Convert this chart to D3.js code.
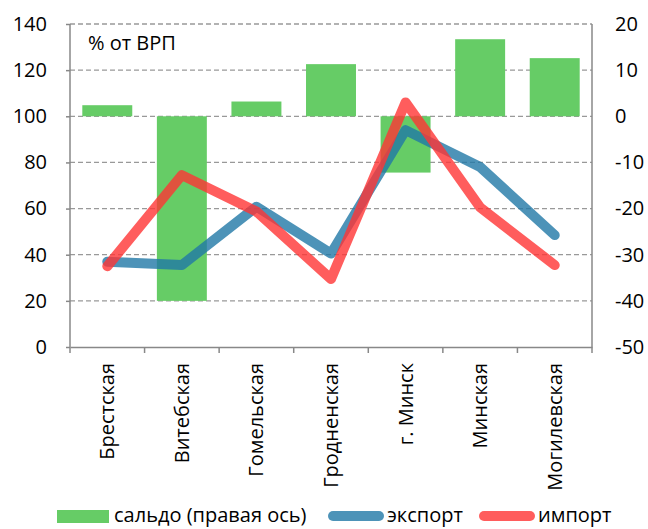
<!DOCTYPE html>
<html>
<head>
<meta charset="utf-8">
<script src="https://cdn.jsdelivr.net/npm/d3@7"></script>
<style>
  body { margin: 0; background: #fff; }
  text { font-family: "Open Sans", sans-serif; fill: #000; }
</style>
</head>
<body>
<div id="chart"></div>
<script>

var regions = ['Брестская', 'Витебская', 'Гомельская', 'Гродненская', 'г. Минск', 'Минская', 'Могилевская'];
var saldo = [2.4, -40, 3.2, 11.3, -12.2, 16.7, 12.6];
var exportVals = [37, 35.5, 60.8, 40.5, 94, 78, 48.5];
var importVals = [35, 74.5, 58.7, 29.5, 106, 60.5, 35.5];
var leftTicks = [0, 20, 40, 60, 80, 100, 120, 140];
var rightTicks = [-50, -40, -30, -20, -10, 0, 10, 20];

var W = 648, H = 529;
var margin = {top: 24, right: 56, bottom: 182, left: 70},
    width = W - margin.left - margin.right,
    height = H - margin.top - margin.bottom;

var fontSize = "20px"

var svg = d3.select("#chart")
    .append("svg")
      .attr("width", W)
      .attr("height", H)
    .append("g")
      .attr("transform", "translate(" + margin.left + "," + margin.top + ")");

var x = d3.scaleBand().domain(regions).range([0, width]).paddingInner(0.33).paddingOuter(0.165)
var xc = d3.scalePoint().domain(regions).range([0, width]).padding(0.5)
var yL = d3.scaleLinear().domain([0, 140]).range([height, 0])
var yR = d3.scaleLinear().domain([-50, 20]).range([height, 0])

// gridlines
svg.append("g")
  .selectAll("line")
  .data(leftTicks.slice(1))
  .enter()
  .append("line")
    .attr("x1", 0).attr("x2", width)
    .attr("y1", d => yL(d)).attr("y2", d => yL(d))
    .style("stroke", "#999")
    .style("stroke-width", 1.3)
    .style("stroke-dasharray", "5,3")

// saldo bars
svg.append("g")
  .selectAll("rect")
  .data(regions)
  .enter()
  .append("rect")
    .attr("x", d => x(d))
    .attr("width", x.bandwidth())
    .attr("y", (d, i) => yR(Math.max(0, saldo[i])))
    .attr("height", (d, i) => Math.abs(yR(saldo[i]) - yR(0)))
    .style("fill", "#66cc66")

var line = d3.line()
  .x((d, i) => xc(regions[i]))

svg.append("path")
  .datum(exportVals)
  .attr("d", line.y(d => yL(d)))
  .style("fill", "none")
  .style("stroke", "#2078a6")
  .style("stroke-opacity", 0.8)
  .style("stroke-width", 10)
  .style("stroke-linecap", "round")
  .style("stroke-linejoin", "round")

svg.append("path")
  .datum(importVals)
  .attr("d", line.y(d => yL(d)))
  .style("fill", "none")
  .style("stroke", "#ff3535")
  .style("stroke-opacity", 0.8)
  .style("stroke-width", 10)
  .style("stroke-linecap", "round")
  .style("stroke-linejoin", "round")

// axes
var axisColor = "#888"
var gl = svg.append("g")
  .call(d3.axisLeft(yL).tickValues(leftTicks).tickSize(4).tickPadding(19).tickFormat(d => String(d)))
var gr = svg.append("g")
  .attr("transform", "translate(" + width + ",0)")
  .call(d3.axisRight(yR).tickValues(rightTicks).tickSize(0).tickPadding(23).tickFormat(d => String(d)))
var gb = svg.append("g")
  .attr("transform", "translate(0," + height + ")")
  .call(d3.axisBottom(x).tickSize(0).tickFormat(""))

gb.selectAll(".tick").remove()
gb.append("g")
  .selectAll("line")
  .data(d3.range(regions.length + 1))
  .enter()
  .append("line")
    .attr("x1", d => d * width / regions.length)
    .attr("x2", d => d * width / regions.length)
    .attr("y1", 0).attr("y2", 6)
    .style("stroke", axisColor)
    .style("stroke-width", 1.5)

;[gl, gr, gb].forEach(function(g) {
  g.select(".domain").style("stroke", axisColor).style("stroke-width", 1.5)
  g.selectAll(".tick line").style("stroke", axisColor).style("stroke-width", 1.5)
  g.selectAll(".tick text").style("font-size", fontSize).style("font-family", "Open Sans").attr("fill", "#000")
})
gl.select(".domain").attr("d", "M0,0V" + height)
gr.select(".domain").attr("d", "M0,0V" + height)

// category labels
svg.append("g")
  .selectAll("text")
  .data(regions)
  .enter()
  .append("text")
    .attr("transform", d => "translate(" + (xc(d) + 7) + "," + (height + 16) + ") rotate(-90)")
    .attr("text-anchor", "end")
    .style("font-size", fontSize)
    .text(d => d)

svg.append("text")
  .attr("x", 18)
  .attr("y", 26)
  .style("font-size", fontSize)
  .text("% от ВРП")

// legend
var lg = svg.append("g").attr("transform", "translate(" + (-margin.left) + "," + (515 - margin.top) + ")")
lg.append("rect").attr("x", 57).attr("y", -5).attr("width", 52).attr("height", 13).style("fill", "#66cc66")
lg.append("text").attr("x", 114).attr("y", 7).style("font-size", fontSize).text("сальдо (правая ось)")
lg.append("line").attr("x1", 333).attr("x2", 379).attr("y1", 1).attr("y2", 1)
  .style("stroke", "#2078a6").style("stroke-opacity", 0.8).style("stroke-width", 10).style("stroke-linecap", "round")
lg.append("text").attr("x", 387).attr("y", 7).style("font-size", fontSize).text("экспорт")
lg.append("line").attr("x1", 484).attr("x2", 530).attr("y1", 1).attr("y2", 1)
  .style("stroke", "#ff3535").style("stroke-opacity", 0.8).style("stroke-width", 10).style("stroke-linecap", "round")
lg.append("text").attr("x", 538).attr("y", 7).style("font-size", fontSize).text("импорт")

</script>
</body>
</html>
